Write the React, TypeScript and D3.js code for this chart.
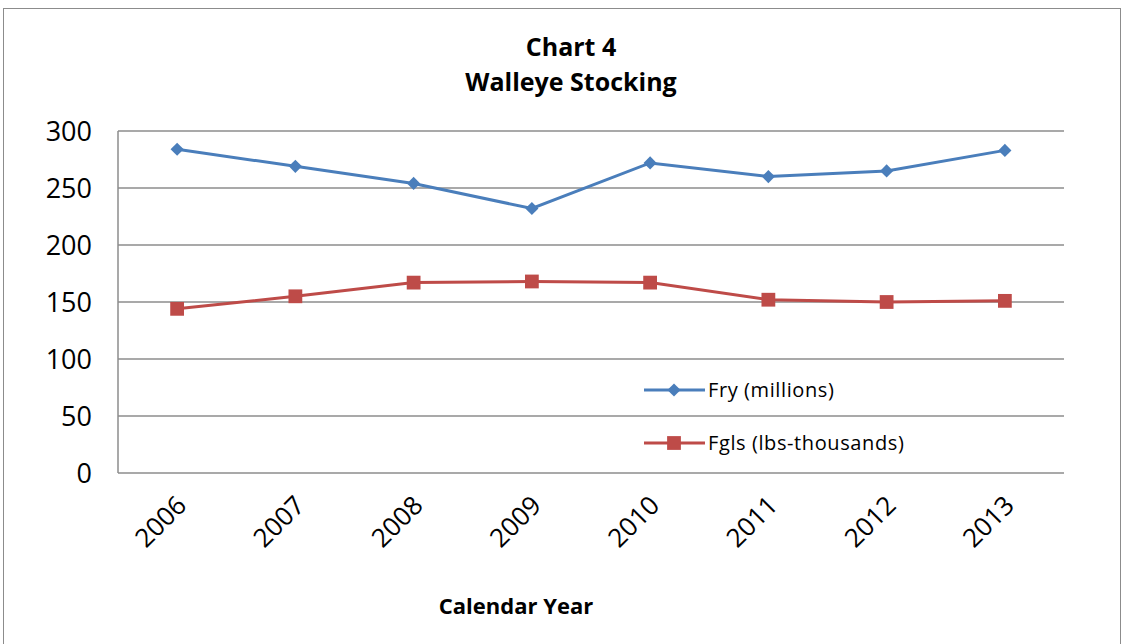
import React, { useEffect, useRef } from 'react';
import * as d3 from 'd3';

const years = ['2006', '2007', '2008', '2009', '2010', '2011', '2012', '2013'];
const fry = [284, 269, 254, 232, 272, 260, 265, 283];
const fgls = [144, 155, 167, 168, 167, 152, 150, 151];
const yTicks = [0, 50, 100, 150, 200, 250, 300];

const FONT = '"Open Sans", "Noto Sans", sans-serif';
const BLUE = '#4A7EBB';
const RED = '#BE4B48';
const GRID = '#8C8C8C';

export default function App() {
  const svgRef = useRef<SVGSVGElement>(null);

  useEffect(() => {
    if (!svgRef.current) return;
    const svg = d3.select(svgRef.current);
    svg.selectAll('*').remove();

    const left = 118, right = 1064, top = 131, bottom = 473;

    // outer chart border
    svg.append('rect')
      .attr('x', 3.5).attr('y', 8.5)
      .attr('width', 1117).attr('height', 660)
      .attr('fill', 'white')
      .attr('stroke', '#8C8C8C')
      .attr('stroke-width', 1);

    const x = d3.scaleBand<string>().domain(years).range([left, right]);
    const y = d3.scaleLinear().domain([0, 300]).range([bottom, top]);

    // gridlines
    svg.append('g')
      .selectAll('line')
      .data(yTicks)
      .enter().append('line')
      .attr('x1', left).attr('x2', right)
      .attr('y1', d => y(d)).attr('y2', d => y(d))
      .attr('stroke', GRID).attr('stroke-width', 1.5);

    // y axis line
    svg.append('line')
      .attr('x1', left).attr('x2', left)
      .attr('y1', top).attr('y2', bottom)
      .attr('stroke', GRID).attr('stroke-width', 1.5);

    // y tick labels
    svg.append('g')
      .selectAll('text')
      .data(yTicks)
      .enter().append('text')
      .attr('x', 92)
      .attr('y', d => y(d) + 10)
      .attr('text-anchor', 'end')
      .style('font-family', FONT)
      .style('font-size', '27px')
      .attr('fill', '#000')
      .text(d => d);

    // x tick labels
    svg.append('g')
      .selectAll('text')
      .data(years)
      .enter().append('text')
      .attr('transform', d => `translate(${x(d)! + x.bandwidth() / 2 - 2},${494}) rotate(-45)`)
      .attr('text-anchor', 'end')
      .attr('dy', '0.7em')
      .style('font-family', FONT)
      .style('font-size', '26px')
      .attr('fill', '#000')
      .text(d => d);

    const cx = (i: number) => x(years[i])! + x.bandwidth() / 2;

    const line = d3.line<number>()
      .x((_, i) => cx(i))
      .y(d => y(d));

    svg.append('path')
      .datum(fry)
      .attr('fill', 'none')
      .attr('stroke', BLUE)
      .attr('stroke-width', 3)
      .attr('d', line);

    svg.append('path')
      .datum(fgls)
      .attr('fill', 'none')
      .attr('stroke', RED)
      .attr('stroke-width', 3)
      .attr('d', line);

    const diamond = d3.symbol().type(d3.symbolDiamond2).size(110);
    const square = d3.symbol().type(d3.symbolSquare).size(190);

    svg.append('g')
      .selectAll('path')
      .data(fry)
      .enter().append('path')
      .attr('d', diamond()!)
      .attr('transform', (d, i) => `translate(${cx(i)},${y(d)})`)
      .attr('fill', BLUE);

    svg.append('g')
      .selectAll('path')
      .data(fgls)
      .enter().append('path')
      .attr('d', square()!)
      .attr('transform', (d, i) => `translate(${cx(i)},${y(d)})`)
      .attr('fill', RED);

    // legend
    const legend = [
      { label: 'Fry (millions)', color: BLUE, sym: diamond, y: 390 },
      { label: 'Fgls (lbs-thousands)', color: RED, sym: square, y: 443 },
    ];
    legend.forEach(l => {
      svg.append('line')
        .attr('x1', 644).attr('x2', 705)
        .attr('y1', l.y).attr('y2', l.y)
        .attr('stroke', l.color).attr('stroke-width', 3);
      svg.append('path')
        .attr('d', l.sym()!)
        .attr('transform', `translate(674,${l.y})`)
        .attr('fill', l.color);
      svg.append('text')
        .attr('x', 708).attr('y', l.y + 7)
        .style('font-family', FONT)
        .style('font-size', '20px')
        .style('letter-spacing', '0.6px')
        .attr('fill', '#000')
        .text(l.label);
    });

    // title
    svg.append('text')
      .attr('x', 571).attr('y', 56)
      .attr('text-anchor', 'middle')
      .style('font-family', FONT)
      .style('font-size', '25px')
      .style('font-weight', 'bold')
      .text('Chart 4');
    svg.append('text')
      .attr('x', 571).attr('y', 91)
      .attr('text-anchor', 'middle')
      .style('font-family', FONT)
      .style('font-size', '25px')
      .style('font-weight', 'bold')
      .text('Walleye Stocking');

    // x axis title
    svg.append('text')
      .attr('x', 516).attr('y', 614)
      .attr('text-anchor', 'middle')
      .style('font-family', FONT)
      .style('font-size', '22px')
      .style('font-weight', 'bold')
      .text('Calendar Year');
  }, []);

  return (
    <svg
      ref={svgRef}
      width={1127}
      height={644}
      style={{ position: 'absolute', left: 0, top: 0, background: 'white' }}
    />
  );
}
